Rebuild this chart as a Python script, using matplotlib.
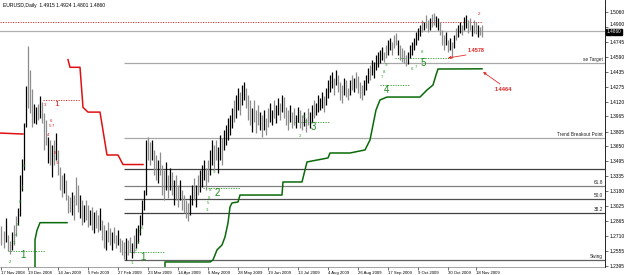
import matplotlib
matplotlib.use("Agg")
import matplotlib.pyplot as plt
import matplotlib.transforms as mtransforms

plt.rcParams['font.family'] = ['Liberation Sans', 'DejaVu Sans']

# ---------------- data ----------------
highs = [
    1.281, 1.276, 1.290, 1.272, 1.266, 1.275, 1.283, 1.292, 1.300, 1.335,
    1.352, 1.390, 1.428, 1.470, 1.445, 1.425, 1.410, 1.406, 1.410, 1.418,
    1.412, 1.400, 1.393, 1.375, 1.372, 1.366, 1.372, 1.379, 1.361, 1.343,
    1.335, 1.337, 1.330, 1.314, 1.312, 1.317, 1.314, 1.333, 1.325, 1.314,
    1.309, 1.304, 1.309, 1.304, 1.298, 1.301, 1.296, 1.298, 1.293, 1.300,
    1.288, 1.283, 1.277, 1.286, 1.279, 1.275, 1.280, 1.272, 1.277, 1.269,
    1.267, 1.265, 1.269, 1.267, 1.270, 1.264, 1.272, 1.279, 1.283, 1.293,
    1.309, 1.319, 1.372, 1.375, 1.370, 1.372, 1.361, 1.356, 1.351, 1.359,
    1.346, 1.340, 1.349, 1.335, 1.342, 1.338, 1.330, 1.335, 1.325, 1.330,
    1.319, 1.314, 1.309, 1.306, 1.314, 1.325, 1.332, 1.325, 1.335, 1.340,
    1.346, 1.351, 1.342, 1.351, 1.361, 1.372, 1.366, 1.372, 1.364, 1.377,
    1.374, 1.382, 1.387, 1.395, 1.398, 1.405, 1.414, 1.419, 1.426, 1.422,
    1.429, 1.433, 1.426, 1.419, 1.414, 1.405, 1.414, 1.403, 1.408, 1.401,
    1.398, 1.403, 1.395, 1.405, 1.411, 1.403, 1.414, 1.408, 1.416, 1.411,
    1.419, 1.417, 1.406, 1.403, 1.408, 1.401, 1.405, 1.398, 1.406, 1.403,
    1.398, 1.401, 1.395, 1.405, 1.401, 1.408, 1.414, 1.411, 1.419, 1.416,
    1.422, 1.418, 1.426, 1.435, 1.440, 1.443, 1.437, 1.445, 1.440, 1.433,
    1.429, 1.437, 1.435, 1.426, 1.435, 1.440, 1.437, 1.443, 1.439, 1.433,
    1.429, 1.435, 1.440, 1.447, 1.450, 1.456, 1.454, 1.461, 1.464, 1.466,
    1.469, 1.464, 1.471, 1.477, 1.479, 1.475, 1.482, 1.484, 1.477, 1.471,
    1.468, 1.466, 1.461, 1.464, 1.471, 1.475, 1.479, 1.485, 1.489, 1.492,
    1.498, 1.495, 1.503, 1.498, 1.500, 1.504, 1.505, 1.502, 1.500, 1.496,
    1.487, 1.482, 1.485, 1.477, 1.479, 1.475, 1.482, 1.489, 1.492, 1.495,
    1.492, 1.501, 1.503, 1.498, 1.500, 1.492, 1.498, 1.495, 1.492, 1.490,
    1.4924,
]
lows = [
    1.262, 1.258, 1.265, 1.255, 1.252, 1.256, 1.262, 1.271, 1.283, 1.292,
    1.318, 1.340, 1.385, 1.405, 1.400, 1.385, 1.390, 1.388, 1.393, 1.395,
    1.390, 1.361, 1.366, 1.348, 1.346, 1.333, 1.346, 1.351, 1.335, 1.319,
    1.312, 1.316, 1.309, 1.295, 1.296, 1.293, 1.288, 1.304, 1.296, 1.290,
    1.283, 1.286, 1.288, 1.280, 1.283, 1.277, 1.274, 1.279, 1.275, 1.277,
    1.267, 1.258, 1.256, 1.265, 1.262, 1.256, 1.264, 1.258, 1.262, 1.254,
    1.251, 1.247, 1.246, 1.251, 1.254, 1.248, 1.253, 1.258, 1.264, 1.272,
    1.283, 1.298, 1.314, 1.351, 1.346, 1.351, 1.335, 1.330, 1.327, 1.335,
    1.314, 1.309, 1.319, 1.311, 1.319, 1.314, 1.304, 1.309, 1.301, 1.309,
    1.298, 1.295, 1.290, 1.287, 1.293, 1.304, 1.309, 1.301, 1.314, 1.317,
    1.322, 1.330, 1.319, 1.328, 1.335, 1.346, 1.340, 1.351, 1.337, 1.351,
    1.346, 1.361, 1.366, 1.372, 1.377, 1.384, 1.391, 1.395, 1.403, 1.398,
    1.408, 1.414, 1.405, 1.393, 1.387, 1.380, 1.391, 1.379, 1.387, 1.382,
    1.375, 1.382, 1.377, 1.385, 1.391, 1.387, 1.395, 1.390, 1.398, 1.393,
    1.401, 1.395, 1.387, 1.382, 1.391, 1.384, 1.387, 1.384, 1.391, 1.384,
    1.382, 1.386, 1.380, 1.387, 1.384, 1.391, 1.395, 1.398, 1.401, 1.403,
    1.405, 1.401, 1.408, 1.416, 1.422, 1.426, 1.419, 1.429, 1.422, 1.414,
    1.411, 1.419, 1.417, 1.414, 1.419, 1.424, 1.422, 1.426, 1.421, 1.416,
    1.414, 1.419, 1.424, 1.432, 1.435, 1.440, 1.437, 1.445, 1.448, 1.452,
    1.456, 1.454, 1.458, 1.461, 1.466, 1.461, 1.468, 1.471, 1.461, 1.456,
    1.454, 1.452, 1.449, 1.451, 1.458, 1.461, 1.466, 1.471, 1.477, 1.481,
    1.485, 1.487, 1.489, 1.485, 1.487, 1.490, 1.492, 1.490, 1.487, 1.482,
    1.471, 1.466, 1.471, 1.464, 1.466, 1.458, 1.468, 1.477, 1.480, 1.484,
    1.482, 1.487, 1.489, 1.484, 1.487, 1.481, 1.484, 1.483, 1.480, 1.482,
    1.4801,
]
directions = "".join([
    "dduddudduu", "uuuddduudu", "dddudududd", "dudddudddu", "duddududdu",
    "ddudduddud", "ddudduduuu", "uuudduddud", "ddudududdu", "dddduududu",
    "uudduudduu", "duuuuuduud", "uudddudddu", "dudduuduud", "udddudduud",
    "dudduuduuu", "uduuuududd", "duddududdd", "duuuduuuuu", "udduudddud",
    "ddduuuuuuu", "duddudduud", "ddudududuu", "duudduddud", "d",
])

date_bars = [0, 13, 28, 43, 58, 73, 88, 103, 118, 133, 148, 163, 178, 193, 208, 223, 237]
date_labels = ["17 Nov 2008", "19 Dec 2008", "14 Jan 2009", "5 Feb 2009", "27 Feb 2009",
               "23 Mar 2009", "14 Apr 2009", "6 May 2009", "28 May 2009", "19 Jun 2009",
               "13 Jul 2009", "4 Aug 2009", "26 Aug 2009", "17 Sep 2009", "9 Oct 2009",
               "30 Oct 2009", "18 Nov 2009"]
price_ticks = [1.5060, 1.4900, 1.4745, 1.4590, 1.4435, 1.4275, 1.4120, 1.3965, 1.3805,
               1.3650, 1.3495, 1.3335, 1.3180, 1.3025, 1.2865, 1.2710, 1.2555, 1.2395]

level_names = ["se Target", "Trend Breakout Point", "", "61.8", "50.0", "38.2", "Swing"]
level_prices = [1.4525, 1.3738, 1.3413, 1.3235, 1.3098, 1.2952, 1.2459]
level_colors = ["#a8a8a8", "#a8a8a8", "#404040", "#808080", "#505050", "#404040", "#606060"]
level_start_bar = 61.25

resist1_bars = [-0.75, 10.75]
resist1_vals = [1.379, 1.378]
resist2_bars = [33.25, 34.25, 39.25, 40.75, 43.25, 49.25, 52.75, 58.25, 60.75, 70.75]
resist2_vals = [1.456, 1.448, 1.448, 1.406, 1.401, 1.401, 1.356, 1.356, 1.346, 1.346]

support1_bars = [16.75, 16.75, 17.75, 19.25, 32.75]
support1_vals = [1.2385, 1.267, 1.277, 1.285, 1.285]
support2_bars = [81.75, 81.75, 104.25, 105.75, 107.75, 110.25, 111.75, 113.25, 114.25, 115.25,
                 118.25, 119.25, 140.25, 140.75, 150.25, 152.75, 163.25, 164.25, 174.25,
                 181.75, 184.25, 185.75, 187.25, 189.25, 192.75, 209.25, 212.75, 215.75,
                 217.25, 218.25, 240.25]
support2_vals = [1.2385, 1.2438, 1.2438, 1.2459, 1.2564, 1.2616, 1.2700, 1.2847, 1.3015, 1.3057,
                 1.3067, 1.3140, 1.3140, 1.3277, 1.3277, 1.3487, 1.3529, 1.3581, 1.3581,
                 1.3613, 1.3717, 1.3875, 1.4032, 1.4137, 1.4168, 1.4168, 1.4242, 1.4294,
                 1.4399, 1.4462, 1.4464]

# dotted setup lines: (start bar, end bar, price)
green_dotted = [(3.25, 21.75, 1.2553), (61.75, 81.75, 1.2543), (100.75, 119.25, 1.3214),
                (146.75, 164.25, 1.3906), (189.25, 204.25, 1.4294), (196.75, 224.25, 1.4578)]
red_dotted = [(20.75, 39.25, 1.4137)]
top_red_level = 1.4955
current_price = 1.4860
header = "EURUSD,Daily  1.4915 1.4924 1.4801 1.4860"

wave_labels = [("1", 10.75, 1.2511), ("1", 70.75, 1.2490), ("2", 107.75, 1.3162),
               ("3", 155.75, 1.3854), ("4", 192.25, 1.4242), ("5", 210.75, 1.4525)]
small_green = [("2", 4.25, 1.2440), ("3", 6.25, 1.2637), ("4", 7.25, 1.2721), ("5", 8.25, 1.2826),
               ("6", 9.25, 1.3067), ("7", 10.25, 1.3214), ("8", 11.25, 1.3445),
               ("1", 65.25, 1.2427), ("2", 67.25, 1.2564), ("3", 68.25, 1.2637),
               ("5", 69.25, 1.2753), ("6", 70.25, 1.2795),
               ("3", 102.75, 1.2983), ("5", 103.25, 1.3057), ("6", 103.75, 1.3109),
               ("8", 104.25, 1.3193), ("9", 106.25, 1.3382),
               ("2", 149.25, 1.3759), ("8", 151.25, 1.3959), ("9", 152.25, 1.3906),
               ("7", 190.25, 1.4378), ("8", 191.25, 1.4431), ("9", 192.25, 1.4500),
               ("6", 205.25, 1.4462), ("7", 207.25, 1.4483), ("8", 210.25, 1.4640)]
small_red = [("3", 21.75, 1.4085), ("6", 24.75, 1.3917), ("5", 24.25, 1.3864), ("7", 25.75, 1.3864),
             ("4", 23.25, 1.3770), ("8", 26.75, 1.3581), ("9", 27.75, 1.3476), ("2", 238.75, 1.5039)]
red_big = [("1", 27.75, 1.4085)]
callouts = [("1.4578", (223.25, 1.4578), (232.25, 1.4609), (233.25, 1.4661)),
            ("1.4464", (240.75, 1.4431), (249.25, 1.4305), (246.75, 1.4242))]

# ---------------- figure ----------------
fig = plt.figure(figsize=(6.25, 2.75), dpi=100)
ax = fig.add_axes([0.0, 8 / 275, 605 / 625, 267 / 275])
ax.set_facecolor("white")

n = len(highs)
idx = list(range(n))
cols = ["#000000" if (directions[i] if i < len(directions) else "u") == "u" else "#8c8c8c" for i in idx]
ax.vlines(idx, lows, highs, colors=cols, lw=0.9, zorder=3)

x_right = 301.75
ax.axhline(current_price, color="#b0b0b0", lw=0.9, zorder=1)
ax.hlines(top_red_level, -0.75, 240, colors="#d02020", lw=0.6, linestyles=(0, (1.5, 1.5)), zorder=2)

for name, pr, c in zip(level_names, level_prices, level_colors):
    ax.hlines(pr, level_start_bar, x_right, colors=c, lw=0.9, zorder=1)
    if name:
        ax.text(x_right - 1, pr + 0.0012, name, fontsize=3.4, ha="right", va="bottom",
                color="#202020", zorder=5)

ax.plot(resist1_bars, resist1_vals, color="#e01010", lw=1.1, zorder=4)
ax.plot(resist2_bars, resist2_vals, color="#e01010", lw=1.1, zorder=4)
ax.plot(support1_bars, support1_vals, color="#0a6a0a", lw=1.1, zorder=4)
ax.plot(support2_bars, support2_vals, color="#0a6a0a", lw=1.1, zorder=4)

for b0, b1, pr in green_dotted:
    ax.hlines(pr, b0, b1, colors="#2a9a2a", lw=0.6, linestyles=(0, (1.5, 1.5)), zorder=2)
for b0, b1, pr in red_dotted:
    ax.hlines(pr, b0, b1, colors="#d02020", lw=0.6, linestyles=(0, (1.5, 1.5)), zorder=2)

for t, b, pr in wave_labels:
    ax.text(b, pr, t, fontsize=7, color="#1a8a1a", ha="center", va="center", zorder=6)
for t, b, pr in small_green:
    ax.text(b, pr, t, fontsize=3.2, color="#2a9a2a", ha="center", va="center", zorder=6)
for t, b, pr in small_red:
    ax.text(b, pr, t, fontsize=3.2, color="#d02020", ha="center", va="center", zorder=6)
for t, b, pr in red_big:
    ax.text(b, pr, t, fontsize=6, color="#d02020", ha="center", va="center", zorder=6)

for t, head, tail, lab in callouts:
    ax.annotate("", xy=head, xytext=tail,
                arrowprops=dict(arrowstyle="-|>", color="#e03030", lw=0.6, mutation_scale=4,
                                shrinkA=0, shrinkB=0), zorder=6)
    ax.text(lab[0], lab[1], t, fontsize=4, color="#e02020", fontweight="bold",
            ha="left", va="center", zorder=6)

# axes
ax.set_xlim(-0.75, x_right)
ax.set_ylim(1.2385, 1.5186)
for s in ["left", "top"]:
    ax.spines[s].set_visible(False)
ax.spines["right"].set_linewidth(0.6)
ax.spines["bottom"].set_linewidth(0.4)
ax.spines["bottom"].set_color("#606060")

ax.yaxis.tick_right()
ax.set_yticks(price_ticks)
ax.set_yticklabels(["%.4f" % v for v in price_ticks])
ax.tick_params(axis="y", length=2, width=0.4, pad=1, labelsize=3.5, colors="#000000")
# nudge the label that sits just above the current-price box
for lbl, v in zip(ax.get_yticklabels(), price_ticks):
    if abs(v - 1.4900) < 1e-6:
        lbl.set_transform(lbl.get_transform() + mtransforms.ScaledTranslation(0, 2.5 / 72, fig.dpi_scale_trans))

ax.set_xticks(date_bars)
ax.set_xticklabels(date_labels)
ax.tick_params(axis="x", length=2, width=0.4, pad=1, labelsize=3.1)
for lbl in ax.get_xticklabels():
    lbl.set_ha("left")

trans = mtransforms.blended_transform_factory(ax.transAxes, ax.transData)
ax.text(1.003, current_price - 0.0006, "%.4f" % current_price, transform=trans, fontsize=3.4,
        color="white", ha="left", va="center", zorder=10, clip_on=False,
        bbox=dict(boxstyle="square,pad=0.12", fc="black", ec="black"))

fig.text(3 / 625, 1 - 6 / 275, header, fontsize=3.6, ha="left", va="center", color="#000000")

fig.savefig("out.png", dpi=100, facecolor="white")
